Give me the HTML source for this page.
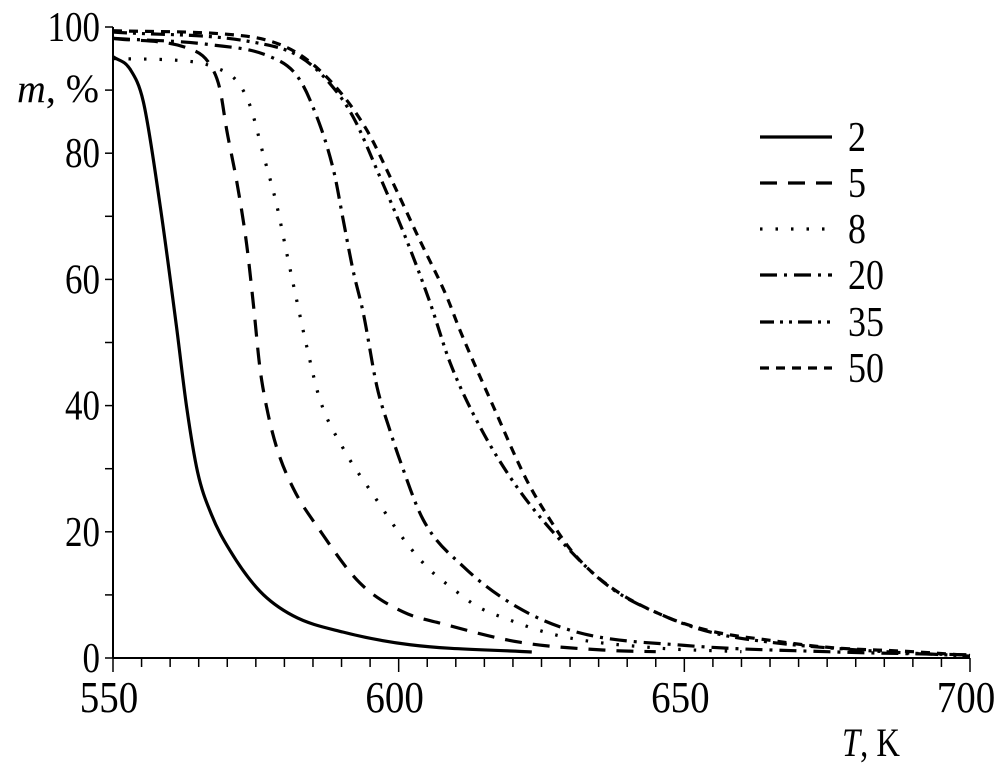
<!DOCTYPE html>
<html><head><meta charset="utf-8"><style>
html,body{margin:0;padding:0;background:#fff}
svg{display:block}
text{font-family:"Liberation Serif","Times New Roman",serif}
</style></head><body>
<svg id="chart" width="994" height="768" viewBox="0 0 994 768">
<g id="axes"></g><g id="series"></g><g id="legend"></g>
<text x="17" y="102" font-size="40" font-family="Liberation Serif" font-style="italic" textLength="82" lengthAdjust="spacingAndGlyphs">m<tspan font-style="normal">, %</tspan></text>
<text x="842" y="756" font-size="40" font-family="Liberation Serif" textLength="58" lengthAdjust="spacingAndGlyphs"><tspan font-style="italic">T</tspan>, K</text>
</svg>
<script>
const xTicks=[550,600,650,700];
const yTicks=[0,20,40,60,80,100];
const seriesNames=["2","5","8","20","35","50"];
const s2T=[550,553,555.3,558.2,561.1,562.9,564.8,567.2,570.5,575.7,581.5,590.3,602,623.3];
const s2M=[95.3,93.3,88.2,72,52.6,39.7,29.5,22.8,17,10.6,6.7,4.1,2.1,0.95];
const s5T=[550,564.1,567,568.7,569.9,571.7,573.4,574.6,575.7,576.9,578.7,581.6,586,593.2,600.8,607.8,621.2,637,645];
const s5M=[98.2,96.3,94,90.2,83.7,75.3,65.5,55.8,46.1,39.7,33.2,26.8,20.5,11.9,7.3,5.4,2.5,1.2,1];
const s8T=[550,562.9,567.5,571.7,574,576.3,578.6,580.4,582.2,583.9,586.2,590.3,595.6,601.4,605.2,609.6,613.7,618,628.2,645,660];
const s8M=[95,94.6,93.7,91.4,87.5,79.8,72,64.2,56.5,49.4,41,33.2,25.8,18.2,14.2,10.9,8.2,6.5,3.5,1.6,1];
const s20T=[550,567,577.5,582,584.5,588.6,590.3,592,593.8,596.2,598.5,600.2,604.3,611.3,620.7,631.2,650,675,700];
const s20M=[98.2,97.2,95.3,92.5,88.4,77.3,69.4,61.5,54.7,43,36,31.4,21.9,14.5,8.1,4.1,2,1,0.5];
const s35T=[550,574.5,582.7,588,592,596.7,601.4,605.5,609,614.2,620.7,629.4,637,646.9,655,665,680,700];
const s35M=[99.2,97.6,95.3,91,85.8,76.3,66.2,56.3,46.8,36.7,27.1,17.6,11.2,6.5,4,2.5,1.3,0.3];
const s50T=[550,572.8,582.2,589,594.4,599,603.7,608.4,610.7,616.6,622.4,626.5,630.6,637,646.9,655,665,675,690,700];
const s50M=[99.4,98.6,95.9,90.5,83.7,75.3,66.2,57.3,52,39.8,28.2,21.9,16.6,11.3,6.5,4.2,2.8,1.7,1,0.4];
const seriesT=[s2T,s5T,s8T,s20T,s35T,s50T];
const seriesM=[s2M,s5M,s8M,s20M,s35M,s50M];
const dashes=["","17 11","2.5 13","17 7 3 7","14 6 3 6 3 6","9 7"];
const NS="http://www.w3.org/2000/svg";
const X0=113,X1=970,Y0=658,Y1=27;
function xs(t){return X0+(t-550)/150*(X1-X0);}
function ys(m){return Y0-m/100*(Y0-Y1);}
function mk(tag,attrs,parent){const e=document.createElementNS(NS,tag);for(const k in attrs)e.setAttribute(k,attrs[k]);parent.appendChild(e);return e;}
const axes=document.getElementById('axes');
let e=mk('line',{x1:X0,y1:Y0,x2:X1,y2:Y0,stroke:'#000','stroke-width':2},axes);


e=mk('line',{x1:X0,y1:Y0,x2:X0,y2:Y1,stroke:'#000','stroke-width':2},axes);


for(let t=550;t<=700;t+=5){e=mk('line',{x1:xs(t),y1:Y0,x2:xs(t),y2:Y0+(t%50===0?14:9),stroke:'#000','stroke-width':1.5},axes);

}
for(let m=0;m<=100;m+=10){e=mk('line',{x1:X0,y1:ys(m),x2:X0-8,y2:ys(m),stroke:'#000','stroke-width':1.5},axes);

}
xTicks.forEach(t=>{const s=String(t);e=mk('text',{x:xs(t)-4,y:712,'font-size':44,'font-family':'Liberation Serif','text-anchor':'middle',textLength:s.length*19.5,lengthAdjust:'spacingAndGlyphs'},axes);e.textContent=s;

});
yTicks.forEach(m=>{const s=String(m);e=mk('text',{x:100,y:ys(m)+14,'font-size':42,'font-family':'Liberation Serif','text-anchor':'end',textLength:s.length*17.5,lengthAdjust:'spacingAndGlyphs'},axes);e.textContent=s;

});
function pathD(T,M){
 const x=T.map(xs),y=M.map(ys),n=x.length;
 const d=[],m=new Array(n);
 for(let i=0;i<n-1;i++)d.push((y[i+1]-y[i])/(x[i+1]-x[i]));
 m[0]=d[0];m[n-1]=d[n-2];
 for(let i=1;i<n-1;i++){m[i]=(d[i-1]*d[i]<=0)?0:(d[i-1]+d[i])/2;}
 for(let i=0;i<n-1;i++){if(d[i]===0){m[i]=0;m[i+1]=0;continue;}
  const a=m[i]/d[i],b=m[i+1]/d[i],s=a*a+b*b;if(s>9){const t=3/Math.sqrt(s);m[i]=t*a*d[i];m[i+1]=t*b*d[i];}}
 let p='M'+x[0]+','+y[0];
 for(let i=0;i<n-1;i++){const h=(x[i+1]-x[i])/3;
  p+='C'+(x[i]+h)+','+(y[i]+m[i]*h)+' '+(x[i+1]-h)+','+(y[i+1]-m[i+1]*h)+' '+x[i+1]+','+y[i+1];}
 return p;}
const sg=document.getElementById('series'),lg=document.getElementById('legend');
const legY=[137,183,229,275,322,368];
seriesNames.forEach((n,i)=>{
 const a={d:pathD(seriesT[i],seriesM[i]),fill:'none',stroke:'#000','stroke-width':3.2};
 if(dashes[i])a['stroke-dasharray']=dashes[i];
 e=mk('path',a,sg);
 
 
 const la={x1:760,y1:legY[i],x2:832,y2:legY[i],stroke:'#000','stroke-width':3.2};
 if(dashes[i])la['stroke-dasharray']=dashes[i];
 e=mk('line',la,lg);
 
 
 e=mk('text',{x:848,y:legY[i]+14,'font-size':42,'font-family':'Liberation Serif',textLength:n.length*18,lengthAdjust:'spacingAndGlyphs'},lg);e.textContent=n;
 
 
});
</script>
</body></html>
